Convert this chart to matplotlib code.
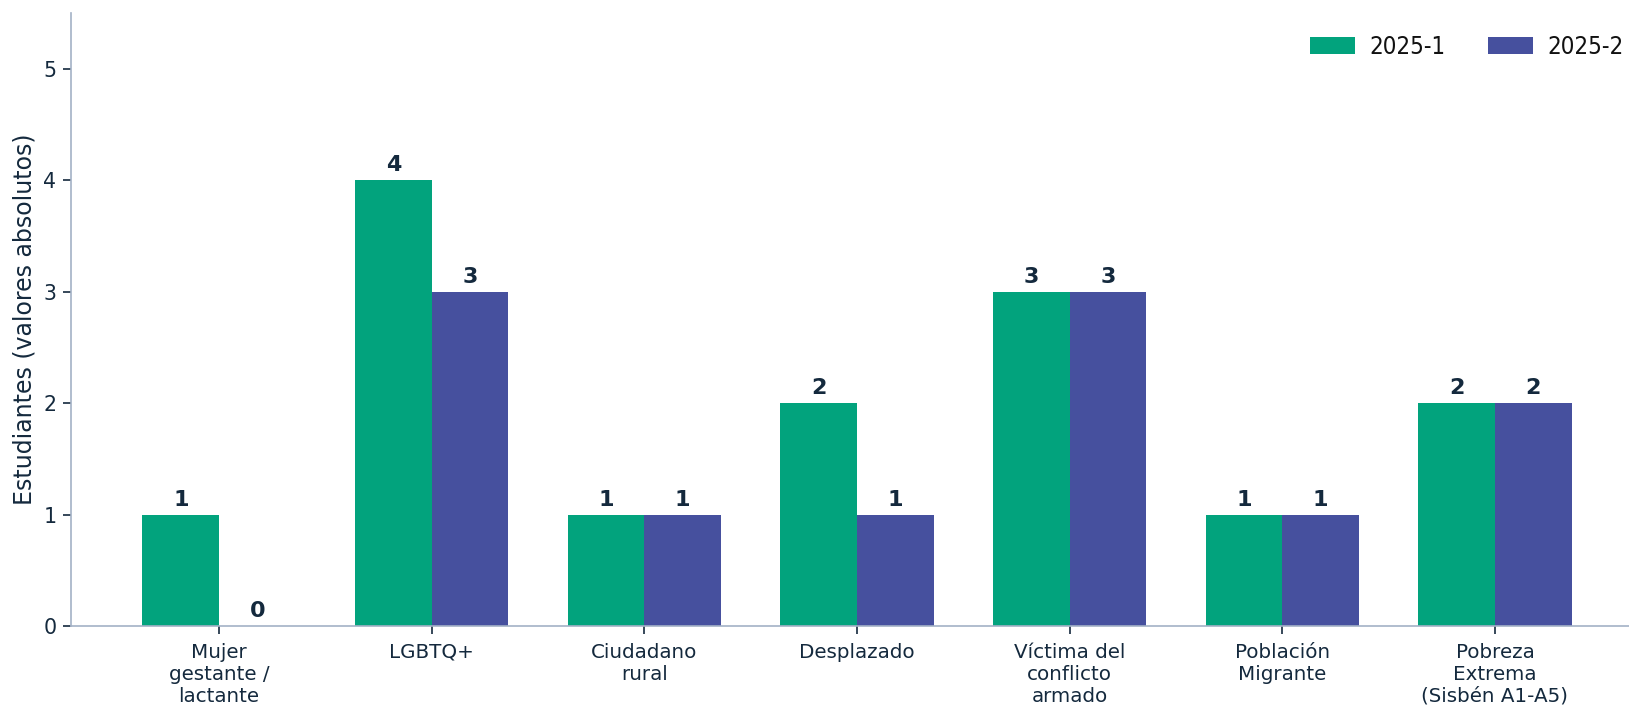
import matplotlib
matplotlib.use("Agg")
import matplotlib.pyplot as plt
from matplotlib import font_manager
import numpy as np

# -------------------------------------------------------
# DATA
# -------------------------------------------------------
categorias = [
    "Mujer\ngestante /\nlactante",
    "LGBTQ+",
    "Ciudadano\nrural",
    "Desplazado",
    "Víctima del\nconflicto\narmado",
    "Población\nMigrante",
    "Pobreza\nExtrema\n(Sisbén A1-A5)",
]
periodo_1 = [1, 4, 1, 2, 3, 1, 2]   # 2025-1
periodo_2 = [0, 3, 1, 1, 3, 1, 2]   # 2025-2
series_labels = ["2025-1", "2025-2"]
y_ticks = [0, 1, 2, 3, 4, 5]

# -------------------------------------------------------
# STYLE
# -------------------------------------------------------
verde = "#02a37d"
azul = "#46509e"
texto = "#14293d"
eje = "#a3b1c6"

# the legend uses a narrower face
nombres = {f.name for f in font_manager.fontManager.ttflist}
if "DejaVu Sans Condensed" in nombres:
    fuente_leg = {"family": "DejaVu Sans Condensed"}
else:
    fuente_leg = {"family": "DejaVu Sans", "stretch": "condensed"}

fig = plt.figure(figsize=(16.29, 7.09), dpi=100)
ax = fig.add_axes([0.0436, 0.117, 0.965, 0.865])

x = np.arange(len(categorias))
ancho = 0.36

b1 = ax.bar(x - ancho / 2, periodo_1, ancho, color=verde, linewidth=0,
            label=series_labels[0])
b2 = ax.bar(x + ancho / 2, periodo_2, ancho, color=azul, linewidth=0,
            label=series_labels[1])

# value labels on top of each bar
for barras in (b1, b2):
    for rect in barras:
        h = rect.get_height()
        ax.annotate(f"{int(h)}", (rect.get_x() + rect.get_width() / 2, h),
                    xytext=(0, 3.5), textcoords="offset points",
                    ha="center", va="bottom", fontsize=16, fontweight="bold",
                    color=texto)

ax.set_ylim(0, 5.5)
ax.set_yticks(y_ticks)
ax.set_xticks(x)
ax.set_xticklabels(categorias, fontsize=14.3, color=texto)
for t in ax.get_yticklabels():
    t.set_fontsize(14.8)
    t.set_color(texto)

ax.set_ylabel("Estudiantes (valores absolutos)", fontsize=17, color=texto,
              labelpad=5)

ax.spines["top"].set_visible(False)
ax.spines["right"].set_visible(False)
ax.spines["left"].set_color(eje)
ax.spines["bottom"].set_color(eje)
ax.spines["left"].set_linewidth(1.2)
ax.spines["bottom"].set_linewidth(1.2)
ax.tick_params(axis="both", length=5.5, width=1.2, color=texto, pad=5)
ax.tick_params(axis="x", pad=6.5)

leg = ax.legend(loc="center right", bbox_to_anchor=(1.004, 1 - 47 / 709),
                bbox_transform=fig.transFigure, ncol=2, frameon=False,
                borderpad=0, handlelength=1.85, handleheight=0.74,
                handletextpad=0.62, columnspacing=1.79,
                prop={"size": 17.2, **fuente_leg})
for t in leg.get_texts():
    t.set_color("#111111")

fig.savefig("out.png", dpi=100)
